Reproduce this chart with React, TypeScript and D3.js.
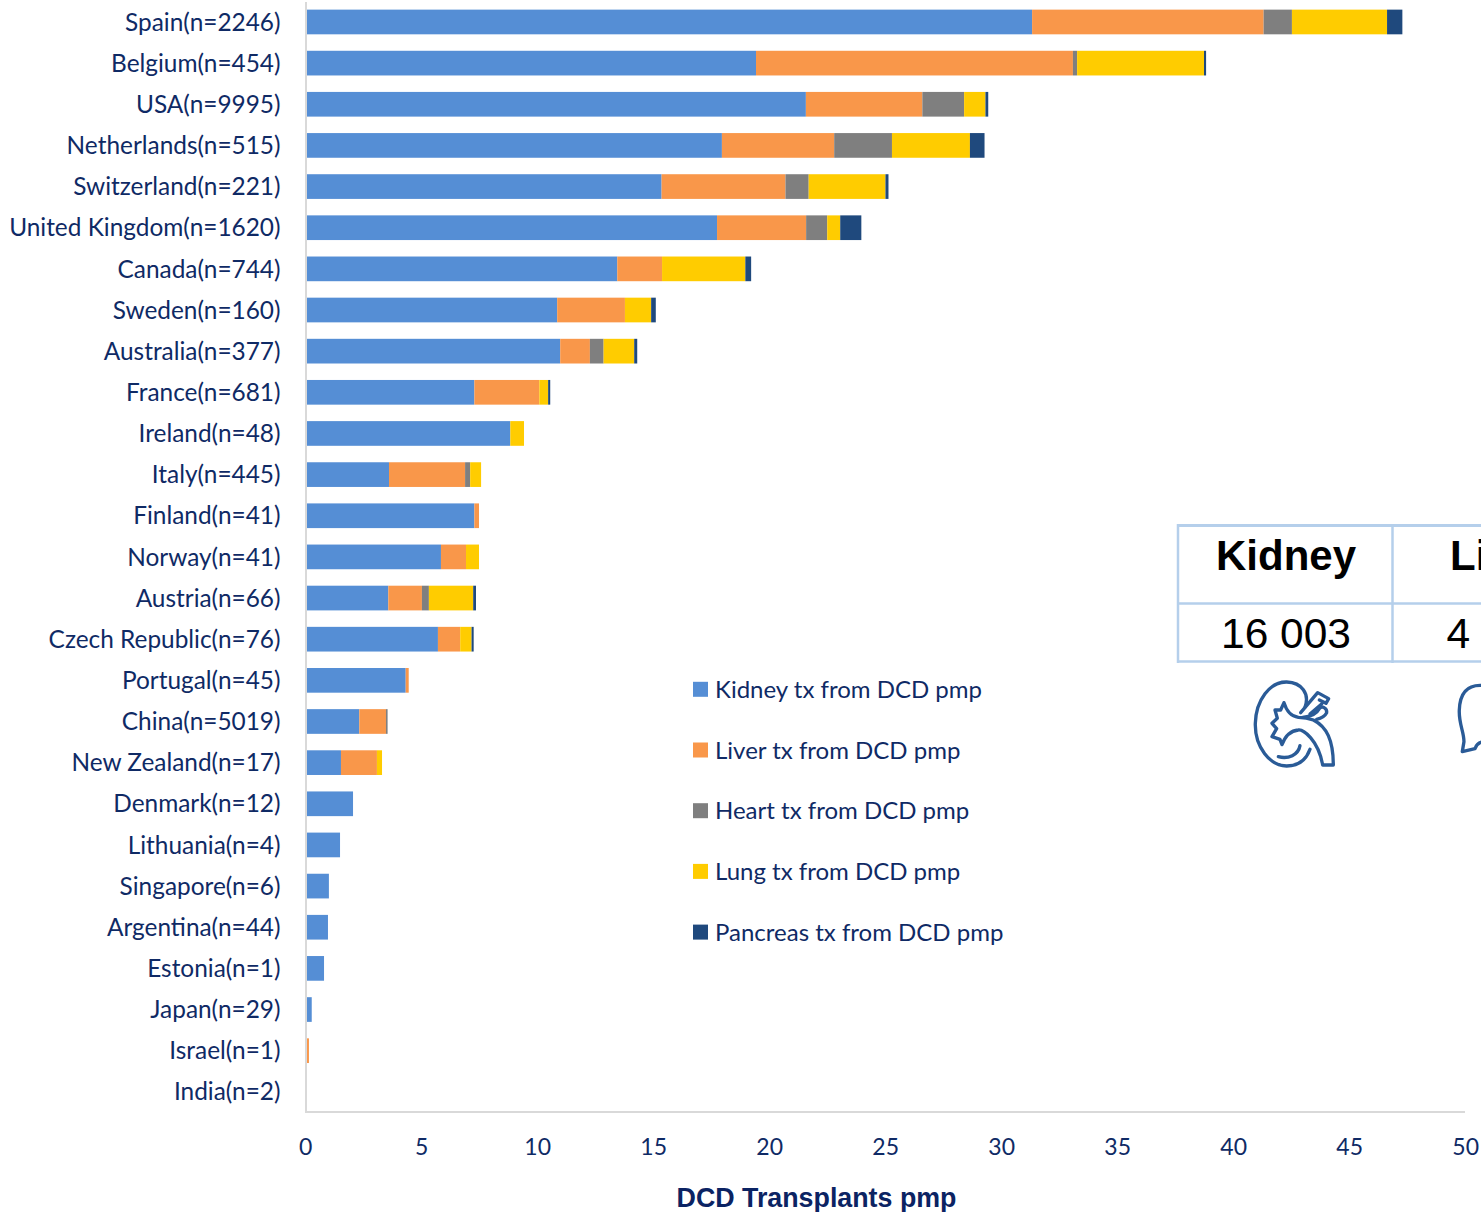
import React from "react";
import * as d3 from "d3";

const categories = [
  "Spain(n=2246)", "Belgium(n=454)", "USA(n=9995)", "Netherlands(n=515)", "Switzerland(n=221)",
  "United Kingdom(n=1620)", "Canada(n=744)", "Sweden(n=160)", "Australia(n=377)", "France(n=681)",
  "Ireland(n=48)", "Italy(n=445)", "Finland(n=41)", "Norway(n=41)", "Austria(n=66)",
  "Czech Republic(n=76)", "Portugal(n=45)", "China(n=5019)", "New Zealand(n=17)", "Denmark(n=12)",
  "Lithuania(n=4)", "Singapore(n=6)", "Argentina(n=44)", "Estonia(n=1)", "Japan(n=29)",
  "Israel(n=1)", "India(n=2)",
];
const kidney = [31.31, 19.41, 21.56, 17.94, 15.34, 17.73, 13.43, 10.84, 10.97, 7.27, 8.82, 3.59, 7.27, 5.83, 3.56, 5.7, 4.31, 2.31, 1.52, 2.04, 1.48, 1.0, 0.96, 0.79, 0.26, 0, 0];
const liver = [9.98, 13.66, 5.02, 4.84, 5.34, 3.84, 1.93, 2.92, 1.28, 2.8, 0, 3.28, 0.2, 1.08, 1.45, 0.96, 0.13, 1.15, 1.55, 0, 0, 0, 0, 0, 0, 0.14, 0];
const heart = [1.22, 0.18, 1.8, 2.49, 1.0, 0.91, 0, 0, 0.59, 0, 0, 0.22, 0, 0, 0.3, 0, 0, 0.07, 0, 0, 0, 0, 0, 0, 0, 0, 0];
const lung = [4.1, 5.47, 0.92, 3.36, 3.31, 0.56, 3.59, 1.13, 1.32, 0.38, 0.59, 0.47, 0, 0.56, 1.91, 0.49, 0, 0, 0.22, 0, 0, 0, 0, 0, 0, 0, 0];
const pancreas = [0.66, 0.09, 0.12, 0.63, 0.13, 0.91, 0.25, 0.2, 0.13, 0.09, 0, 0, 0, 0, 0.12, 0.09, 0, 0, 0, 0, 0, 0, 0, 0, 0, 0, 0];

const seriesNames = ["Kidney tx from DCD pmp", "Liver tx from DCD pmp", "Heart tx from DCD pmp", "Lung tx from DCD pmp", "Pancreas tx from DCD pmp"];
const seriesValues = [kidney, liver, heart, lung, pancreas];
const seriesColors = ["#558ed5", "#f9974a", "#7f7f7f", "#ffcc00", "#1f497d"];
const xTicks = [0, 5, 10, 15, 20, 25, 30, 35, 40, 45, 50];
const xTitle = "DCD Transplants pmp";

const textColor = "#0f2a65";
const labelFont = "Lato, Carlito, sans-serif";
const arial = "'Liberation Sans', Arial, sans-serif";
const tableBorder = "#b5cfeb";
const iconColor = "#2a5b97";

const x = d3.scaleLinear().domain([0, 50]).range([305.7, 1465.7]);
const y = d3.scaleBand<number>().domain(d3.range(categories.length)).range([1.4, 1112.4]).paddingInner(0.4).paddingOuter(0.2);

const rows = categories.map((_, i) => {
  const o: Record<string, number> = {};
  seriesNames.forEach((n, s) => (o[n] = seriesValues[s][i]));
  return o;
});
const stacked = d3.stack<Record<string, number>>().keys(seriesNames)(rows);

export default function App() {
  return (
    <svg width={1481} height={1212} viewBox="0 0 1481 1212" style={{ position: "absolute", left: 0, top: 0, background: "#fff" }}>
      {stacked.map((layer, s) =>
        layer.map((d, i) =>
          d[1] - d[0] > 0 ? (
            <rect key={`${s}-${i}`} x={x(d[0])} y={y(i)!} width={x(d[1]) - x(d[0])} height={y.bandwidth()} fill={seriesColors[s]} />
          ) : null
        )
      )}

      <line x1={306} x2={306} y1={2} y2={1112.5} stroke="#d9d9d9" strokeWidth={2} />
      <line x1={305} x2={1465} y1={1112} y2={1112} stroke="#d9d9d9" strokeWidth={2} />

      {categories.map((c, i) => (
        <text key={c} x={280.5} y={y(i)! + y.bandwidth() / 2 + 0.1} dy="0.35em" textAnchor="end" fontFamily={labelFont} fontSize={24.4} fill={textColor}>
          {c}
        </text>
      ))}

      {xTicks.map((t) => (
        <text key={t} x={x(t)} y={1155} textAnchor="middle" fontFamily={labelFont} fontSize={23} fill={textColor}>
          {t}
        </text>
      ))}
      <text x={816.5} y={1207} textAnchor="middle" fontFamily={arial} fontWeight="bold" fontSize={26.8} fill="#0b2363">
        {xTitle}
      </text>

      {seriesNames.map((n, s) => {
        const ly = 689.3 + s * 60.7;
        return (
          <g key={n}>
            <rect x={693} y={ly - 7.5} width={15} height={15} fill={seriesColors[s]} />
            <text x={715} y={ly + 0.2} dy="0.35em" fontFamily={labelFont} fontSize={24} fill={textColor}>
              {n}
            </text>
          </g>
        );
      })}

      <g fill="none" stroke={tableBorder}>
        <line x1={1177} x2={1481} y1={525.5} y2={525.5} strokeWidth={3} />
        <line x1={1178} x2={1178} y1={524} y2={663} strokeWidth={2.5} />
        <line x1={1392.5} x2={1392.5} y1={524} y2={663} strokeWidth={2.5} />
        <line x1={1177} x2={1481} y1={603.5} y2={603.5} strokeWidth={2.5} />
        <line x1={1177} x2={1481} y1={661.5} y2={661.5} strokeWidth={2.5} />
      </g>
      <text x={1286} y={570} textAnchor="middle" fontFamily={arial} fontWeight="bold" fontSize={42} fill="#000">Kidney</text>
      <text x={1286} y={648} textAnchor="middle" fontFamily={arial} fontSize={42.5} fill="#000">16 003</text>
      <text x={1450} y={570} fontFamily={arial} fontWeight="bold" fontSize={42} fill="#000">Liver</text>
      <text x={1446.5} y={648} fontFamily={arial} fontSize={42.5} fill="#000">4</text>

      <g transform="translate(1170 510) scale(0.3333)" fill="none" stroke={iconColor} strokeWidth={10} strokeLinejoin="round" strokeLinecap="round">
        <path d="M405,592 C420,550 395,518 350,516 C300,515 258,570 256,640 C254,710 300,768 350,768 C385,768 408,752 420,718" />
        <path d="M385,622 C370,620 352,612 342,578 L332,600 L315,600 L322,625 L306,640 L320,656 L306,680 L330,688 L336,704 C345,680 360,662 385,660 C400,658 445,690 458,765 L490,765 C490,690 470,650 430,630 C415,624 400,622 385,622" />
        <path d="M325,740 C355,748 385,735 390,707" />
        <path d="M392,608 L443,548 L476,566 L468,580 L448,570 M420,612 L455,582" />
        <path d="M398,622 C420,620 438,615 448,596 C455,585 472,595 470,608 C465,618 452,625 440,628" />
        <path d="M933,526 C895,525 870,545 868,600 C866,640 882,665 882,695 L877,725 L915,716 C920,700 930,695 945,695" />
      </g>
    </svg>
  );
}
